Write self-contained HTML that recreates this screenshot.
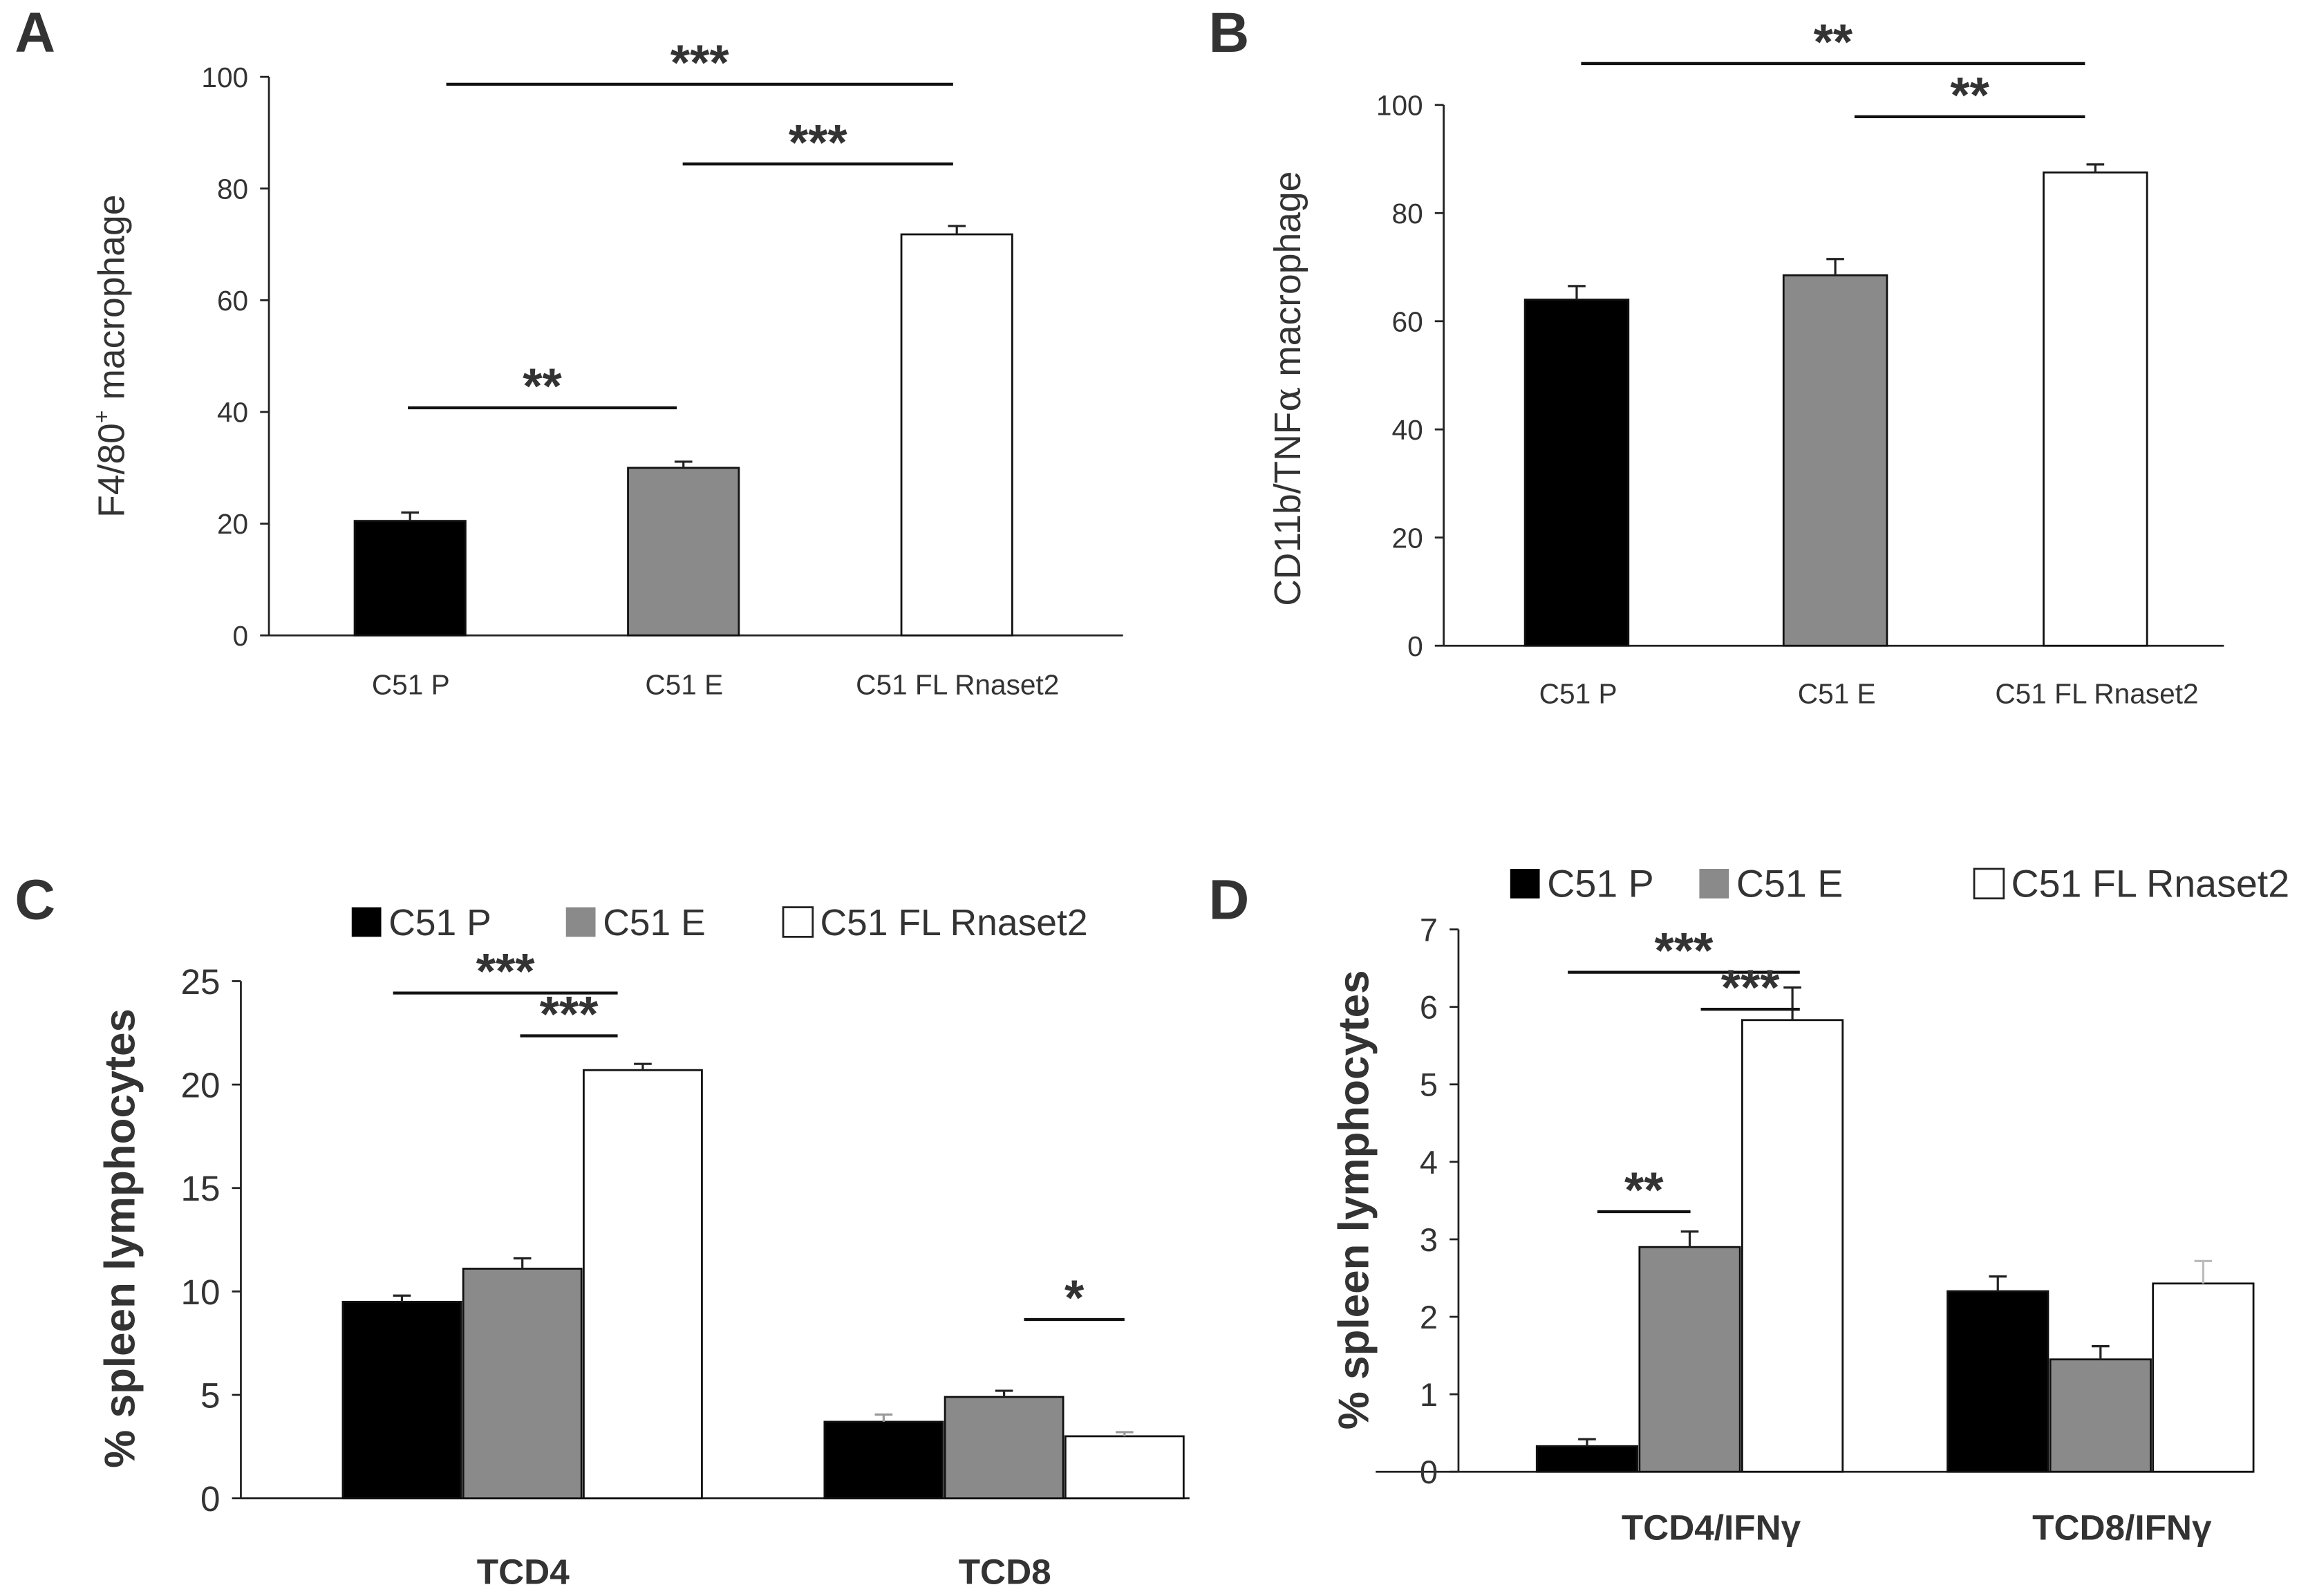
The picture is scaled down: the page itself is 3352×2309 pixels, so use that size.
<!DOCTYPE html>
<html><head><meta charset="utf-8"><style>
html,body{margin:0;padding:0;background:#fff}
svg{display:block}
text{font-family:"Liberation Sans",Arial,sans-serif;fill:#333}
</style></head><body>
<svg id="fig" xmlns="http://www.w3.org/2000/svg" width="3352" height="2309" viewBox="0 0 1568 1080.1">
<rect width="1568" height="1081" fill="#fff"/>
</svg>
<script>
// Panel A data
const catsA = ["C51 P","C51 E","C51 FL Rnaset2"];
const valsA = [20.5, 30, 71.8];
const errA = [1.5, 1.1, 1.5];
const ticksA = [0,20,40,60,80,100];
// Panel B data
const catsB = ["C51 P","C51 E","C51 FL Rnaset2"];
const valsB = [64, 68.5, 87.5];
const errB = [2.5, 3.0, 1.5];
const ticksB = [0,20,40,60,80,100];
// Panel C data
const groupsC = ["TCD4","TCD8"];
const seriesNames = ["C51 P","C51 E","C51 FL Rnaset2"];
const pVC = [9.5, 3.7];
const eVC = [11.1, 4.9];
const flVC = [20.7, 3.0];
const pEC = [0.3, 0.35];
const eEC = [0.5, 0.3];
const flEC = [0.3, 0.2];
const ticksC = [0,5,10,15,20,25];
// Panel D data
const groupsD = ["TCD4/IFN\u03b3","TCD8/IFN\u03b3"];
const pVD = [0.33, 2.33];
const eVD = [2.9, 1.45];
const flVD = [5.83, 2.43];
const pED = [0.09, 0.19];
const eED = [0.2, 0.17];
const flED = [0.42, 0.29];
const ticksD = [0,1,2,3,4,5,6,7];

const svg = document.getElementById('fig');
const NS = 'http://www.w3.org/2000/svg';
function el(tag, attrs, parent){const e=document.createElementNS(NS,tag);for(const k in attrs)e.setAttribute(k,attrs[k]);(parent||svg).appendChild(e);return e;}
function txt(s, attrs, parent){const t=el('text',attrs,parent);t.textContent=s;return t;}
const fills=['#000','#8a8a8a','#fff'];

function axis(g, x0, y0, yTop, vmax, ticks, xEnd, xStart, fs){
  const sy=v=>y0-(y0-yTop)*v/vmax;
  const ya=el('line',{x1:x0,y1:y0,x2:x0,y2:yTop,stroke:'#222','stroke-width':1.3},g);
  
  
  const xa=el('line',{x1:xStart,y1:y0,x2:xEnd,y2:y0,stroke:'#222','stroke-width':1.3},g);
  
  
  ticks.forEach(t=>{
    el('line',{x1:x0-6,x2:x0,y1:sy(t),y2:sy(t),stroke:'#222','stroke-width':1.3},g);
    const l=txt(String(t),{x:x0-14,y:sy(t)+fs*0.36,'text-anchor':'end','font-size':fs},g);
    
    
  });
  return sy;
}
function bar(g,x,w,v,e,sy,fill,errCol){
  const y=sy(v);
  const r=el('rect',{x:x,y:y,width:w,height:sy(0)-y,fill:fill,stroke:'#111','stroke-width':1.3},g);
  
  
  const ye=sy(v+e), cx=x+w/2;
  el('line',{x1:cx,x2:cx,y1:y,y2:ye,stroke:errCol||'#222','stroke-width':1.5},g);
  el('line',{x1:cx-6,x2:cx+6,y1:ye,y2:ye,stroke:errCol||'#222','stroke-width':1.5},g);
}
function sig(g,x1,x2,y,s,fs){
  const l=el('line',{x1:x1,x2:x2,y1:y,y2:y,stroke:'#111','stroke-width':2},g);
  
  
  const t=txt(s,{x:(x1+x2)/2,y:y-3,'text-anchor':'middle','font-size':fs,'font-weight':'bold',fill:'#111'},g);
  
  
}
function panelLetter(s,x,y){
  const t=txt(s,{x:x,y:y,'font-size':38,'font-weight':'bold',fill:'#111'});
  
  
}
function legend(g,y,xs,fs){
  seriesNames.forEach((n,i)=>{
    const r=el('rect',{x:xs[i], y:y-18,width:20,height:20,fill:fills[i],stroke:i==2?'#222':'none','stroke-width':1.3},g);
    
    
    const t=txt(n,{x:xs[i]+25,y:y+1,'font-size':fs},g);
    
    
  });
}

// ---- Panel A
panelLetter('A',10,35);
const gA=el('g',{});  
const syA=axis(gA,182,430,52,100,ticksA,760,182,19);
const barXA=[240,425,610];
catsA.forEach((c,i)=>{
  bar(gA,barXA[i],75,valsA[i],errA[i],syA,fills[i]);
  const t=txt(c,{x:barXA[i]+38,y:470,'text-anchor':'middle','font-size':19},gA);
   
});
const ylA=txt('',{transform:'translate(84,241) rotate(-90)','text-anchor':'middle','font-size':25},gA);
ylA.innerHTML='F4/80<tspan dy="-10" font-size="15">+</tspan><tspan dy="10"> macrophage</tspan>';
 
sig(gA,276,458,276,'**',34); sig(gA,302,645,57,'***',34); sig(gA,462,645,111,'***',34);

// ---- Panel B
panelLetter('B',818,35);
const gB=el('g',{});  
const syB=axis(gB,977,437,71,100,ticksB,1505,977,19);
const barXB=[1032,1207,1383];
catsB.forEach((c,i)=>{
  bar(gB,barXB[i],70,valsB[i],errB[i],syB,fills[i]);
  const t=txt(c,{x:barXB[i]+36,y:476,'text-anchor':'middle','font-size':19},gB);
   
});
const ylB=txt('',{transform:'translate(880,263) rotate(-90)','text-anchor':'middle','font-size':25},gB);
ylB.innerHTML='CD11b/TNF<tspan font-family="DejaVu Serif">α</tspan> macrophage';
 
sig(gB,1070,1411,43,'**',34); sig(gB,1255,1411,79,'**',34);

// ---- Panel C
panelLetter('C',10,622);
const gC=el('g',{});  
const syC=axis(gC,163,1014,664,25,ticksC,805,163,24);
const grpXC=[232,558];
groupsC.forEach((gname,j)=>{
  const vs=[pVC[j],eVC[j],flVC[j]], es=[pEC[j],eEC[j],flEC[j]];
  vs.forEach((v,i)=>bar(gC,grpXC[j]+i*81.5,80,v,es[i],syC,fills[i],(j==1&&i!=1)?'#999':null));
  const t=txt(gname,{x:grpXC[j]+122,y:1072,'text-anchor':'middle','font-size':24,'font-weight':'bold',fill:'#111'},gC);
   
});
const ylC=txt('% spleen lymphocytes',{transform:'translate(91,838) rotate(-90)','text-anchor':'middle','font-size':29,'font-weight':'bold',fill:'#111'},gC);
 
const lgC=el('g',{},gC);  
legend(lgC,632,[238,383,530],25);
sig(gC,266,418,672,'***',34); sig(gC,352,418,701,'***',34); sig(gC,693,761,893,'*',34);

// ---- Panel D
panelLetter('D',818,622);
const gD=el('g',{});  
const syD=axis(gD,987,996,629,7,ticksD,1525,931,22);
const grpXD=[1040,1318];
groupsD.forEach((gname,j)=>{
  const vs=[pVD[j],eVD[j],flVD[j]], es=[pED[j],eED[j],flED[j]];
  vs.forEach((v,i)=>bar(gD,grpXD[j]+i*69.5,68,v,es[i],syD,fills[i],(j==1&&i==2)?'#bbb':null));
  const t=txt(gname,{x:grpXD[j]+118,y:1042,'text-anchor':'middle','font-size':24,'font-weight':'bold',fill:'#111'},gD);
   
});
const ylD=txt('% spleen lymphocytes',{transform:'translate(926,812) rotate(-90)','text-anchor':'middle','font-size':29,'font-weight':'bold',fill:'#111'},gD);
 
const lgD=el('g',{},gD);  
legend(lgD,606,[1022,1150,1336],26);
sig(gD,1061,1218,658,'***',34); sig(gD,1151,1218,683,'***',34); sig(gD,1081,1144,820,'**',34);
</script>
</body></html>
